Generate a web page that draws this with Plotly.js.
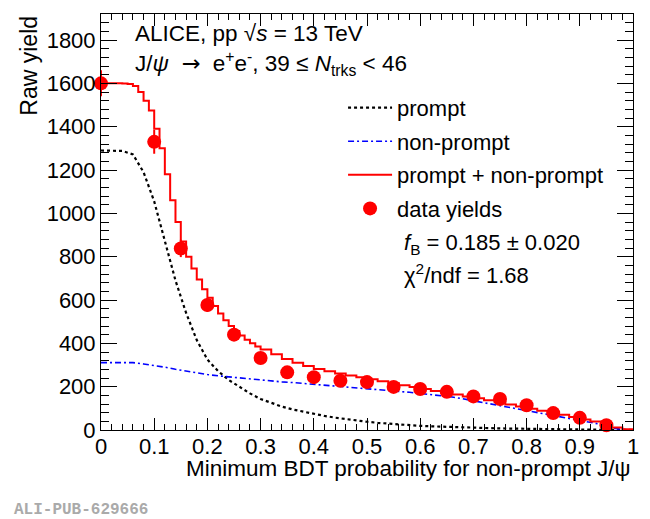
<!DOCTYPE html>
<html>
<head>
<meta charset="utf-8">
<script src="https://cdn.plot.ly/plotly-3.0.1.min.js"></script>
<style>
  body { margin: 0; background: #fff; }
  #plot { width: 650px; height: 519px; }
</style>
</head>
<body>
<div id="plot"></div>
<script>
// data yields vs minimum BDT cut
const cutValues = [0, 0.1, 0.15, 0.2, 0.25, 0.3, 0.35, 0.4, 0.45, 0.5, 0.55, 0.6, 0.65, 0.7, 0.75, 0.8, 0.85, 0.9, 0.95];
const yields    = [1600, 1330, 838, 577, 440, 332, 266, 244, 227, 221, 199, 189, 176, 155, 143, 114, 78, 56, 22];
const yieldErrs = [60, 55, 40, 32, 28, 25, 22, 22, 22, 20, 20, 18, 18, 16, 15, 14, 12, 12, 9];

// template curves (prompt, non-prompt) on a 0.02 grid
const tmplX = [0, 0.02, 0.04, 0.06, 0.08, 0.1, 0.12, 0.14, 0.16, 0.18, 0.2, 0.22, 0.24, 0.26, 0.28, 0.3,
  0.32, 0.34, 0.36, 0.38, 0.4, 0.42, 0.44, 0.46, 0.48, 0.5, 0.52, 0.54, 0.56, 0.58, 0.6,
  0.62, 0.64, 0.66, 0.68, 0.7, 0.72, 0.74, 0.76, 0.78, 0.8, 0.82, 0.84, 0.86, 0.88, 0.9,
  0.92, 0.94, 0.96, 0.98, 1.0];
const promptY = [1290, 1290, 1288, 1272, 1190, 1055, 872, 690, 540, 415, 325, 272, 231, 199, 169, 143,
  125, 108, 95, 84, 74, 65, 57, 50, 43, 38, 33, 29, 25, 22, 19,
  17, 15, 13, 11, 10, 9, 8, 7, 6, 5, 4, 4, 3, 3, 2,
  2, 1, 1, 0, 0];
const nonPromptY = [311, 312, 312, 311, 305, 298, 290, 280, 271, 263, 256, 250, 245, 239, 234, 230,
  226, 222, 219, 215, 212, 209, 205, 201, 197, 193, 188, 184, 179, 174, 169,
  164, 158, 152, 144, 135, 127, 118, 108, 99, 90, 82, 74, 65, 56, 46,
  37, 26, 10, 2, 0];

// fitted sum, histogram steps
const sumX = [0, 0.01, 0.02, 0.03, 0.04, 0.05, 0.06, 0.07, 0.08, 0.09, 0.1, 0.11, 0.12, 0.13, 0.14, 0.15,
  0.16, 0.17, 0.18, 0.19, 0.2, 0.21, 0.22, 0.23, 0.24, 0.25, 0.26, 0.27, 0.28, 0.29, 0.3,
  0.32, 0.34, 0.36, 0.38, 0.4, 0.42, 0.44, 0.46, 0.48, 0.5, 0.52, 0.54, 0.56, 0.58, 0.6,
  0.62, 0.64, 0.66, 0.68, 0.7, 0.72, 0.74, 0.76, 0.78, 0.8, 0.82, 0.84, 0.86, 0.88, 0.9,
  0.92, 0.94, 0.96, 0.98, 1.0];
const sumY = [1600, 1600, 1600, 1600, 1599, 1597, 1588, 1560, 1520, 1475, 1390, 1300, 1180, 1060, 960, 870,
  800, 745, 695, 650, 610, 572, 538, 507, 480, 457, 436, 417, 400, 385, 372,
  350, 328, 310, 295, 282, 271, 261, 251, 243, 234, 225, 216, 207, 198, 189,
  180, 172, 164, 155, 146, 137, 128, 118, 108, 98, 89, 80, 70, 60, 49,
  39, 27, 12, 3, 0];

const fnt = "'Liberation Sans', Arial, sans-serif";
const fs = 22;

const traces = [
  {
    x: tmplX, y: promptY, type: 'scatter', mode: 'lines', name: 'prompt',
    legendgroup: 'a',
    line: { color: 'black', width: 2.2, dash: '3px,3px' }
  },
  {
    x: tmplX, y: nonPromptY, type: 'scatter', mode: 'lines', name: 'non-prompt',
    legendgroup: 'b',
    line: { color: '#0000ff', width: 1.6, dash: '6px,3px,2px,3px' }
  },
  {
    x: sumX, y: sumY, type: 'scatter', mode: 'lines', name: 'prompt + non-prompt',
    legendgroup: 'c',
    line: { color: '#ff0000', width: 2, shape: 'hv' }
  },
  {
    x: cutValues, y: yields, type: 'scatter', mode: 'markers', name: 'data yields',
    legendgroup: 'd',
    marker: { color: '#ff0000', size: 14, symbol: 'circle' },
    error_y: { type: 'data', array: yieldErrs, visible: true, color: '#ff0000', thickness: 2, width: 0 },
    cliponaxis: false
  }
];

const layout = {
  width: 650,
  height: 519,
  margin: { l: 101, r: 17, t: 14, b: 89 },
  paper_bgcolor: 'white',
  plot_bgcolor: 'white',
  font: { family: fnt, size: fs, color: 'black' },
  showlegend: true,
  legend: {
    x: 0.455, y: 0.825, xanchor: 'left', yanchor: 'top',
    bgcolor: 'rgba(0,0,0,0)',
    font: { family: fnt, size: fs },
    traceorder: 'grouped',
    tracegroupgap: 2,
    itemwidth: 44
  },
  xaxis: {
    range: [0, 1],
    dtick: 0.1,
    tick0: 0,
    ticks: 'inside',
    ticklen: 12,
    tickwidth: 1,
    tickcolor: 'black',
    minor: { dtick: 0.02, ticks: 'inside', ticklen: 6, tickcolor: 'black', showgrid: false },
    showline: true,
    linecolor: 'black',
    linewidth: 1,
    mirror: 'allticks',
    showgrid: false,
    zeroline: false,
    tickangle: 0,
    ticklabelstandoff: -3,
    tickfont: { family: fnt, size: fs }
  },
  yaxis: {
    range: [0, 1920],
    dtick: 200,
    tick0: 0,
    ticks: 'inside',
    ticklen: 16,
    tickwidth: 1,
    tickcolor: 'black',
    minor: { dtick: 40, ticks: 'inside', ticklen: 8, tickcolor: 'black', showgrid: false },
    showline: true,
    linecolor: 'black',
    linewidth: 1,
    mirror: 'allticks',
    showgrid: false,
    zeroline: false,
    tickfont: { family: fnt, size: fs }
  },
  annotations: [
    {
      text: 'ALICE, pp √<i>s</i> = 13 TeV',
      xref: 'paper', yref: 'paper', x: 0.06, y: 0.954,
      xanchor: 'left', yanchor: 'middle', showarrow: false,
      font: { family: fnt, size: fs + 0.5 }
    },
    {
      text: 'J/<i>ψ</i>  <span style="font-family:DejaVu Sans">→</span>  e<sup>+</sup>e<sup>-</sup>, 39 ≤ <i>N</i><sub>trks</sub> &lt; 46',
      xref: 'paper', yref: 'paper', x: 0.06, y: 0.882,
      xanchor: 'left', yanchor: 'middle', showarrow: false,
      font: { family: fnt, size: fs + 0.5 }
    },
    {
      text: '<i>f</i><sub>B</sub> = 0.185 ± 0.020',
      xref: 'paper', yref: 'paper', x: 0.566, y: 0.447,
      xanchor: 'left', yanchor: 'middle', showarrow: false,
      font: { family: fnt, size: fs }
    },
    {
      text: 'χ<sup>2</sup>/ndf = 1.68',
      xref: 'paper', yref: 'paper', x: 0.566, y: 0.376,
      xanchor: 'left', yanchor: 'middle', showarrow: false,
      font: { family: fnt, size: fs }
    },
    {
      text: 'Raw yield',
      xref: 'paper', yref: 'paper', x: -0.136, y: 1.0,
      xanchor: 'center', yanchor: 'top', textangle: -90, showarrow: false,
      font: { family: fnt, size: 23 }
    },
    {
      text: 'Minimum BDT probability for non-prompt J/ψ',
      xref: 'paper', yref: 'paper', x: 1.0, y: -0.093,
      xanchor: 'right', yanchor: 'middle', showarrow: false,
      font: { family: fnt, size: fs + 0.5 }
    },
    {
      text: '<b>ALI-PUB-629666</b>',
      xref: 'paper', yref: 'paper', x: -0.168, y: -0.192,
      xanchor: 'left', yanchor: 'middle', showarrow: false,
      font: { family: "'Liberation Mono', 'Courier New', monospace", size: 16, color: '#aaaaaa' }
    }
  ]
};

Plotly.newPlot('plot', traces, layout, { displayModeBar: false, staticPlot: true });
</script>
</body>
</html>
